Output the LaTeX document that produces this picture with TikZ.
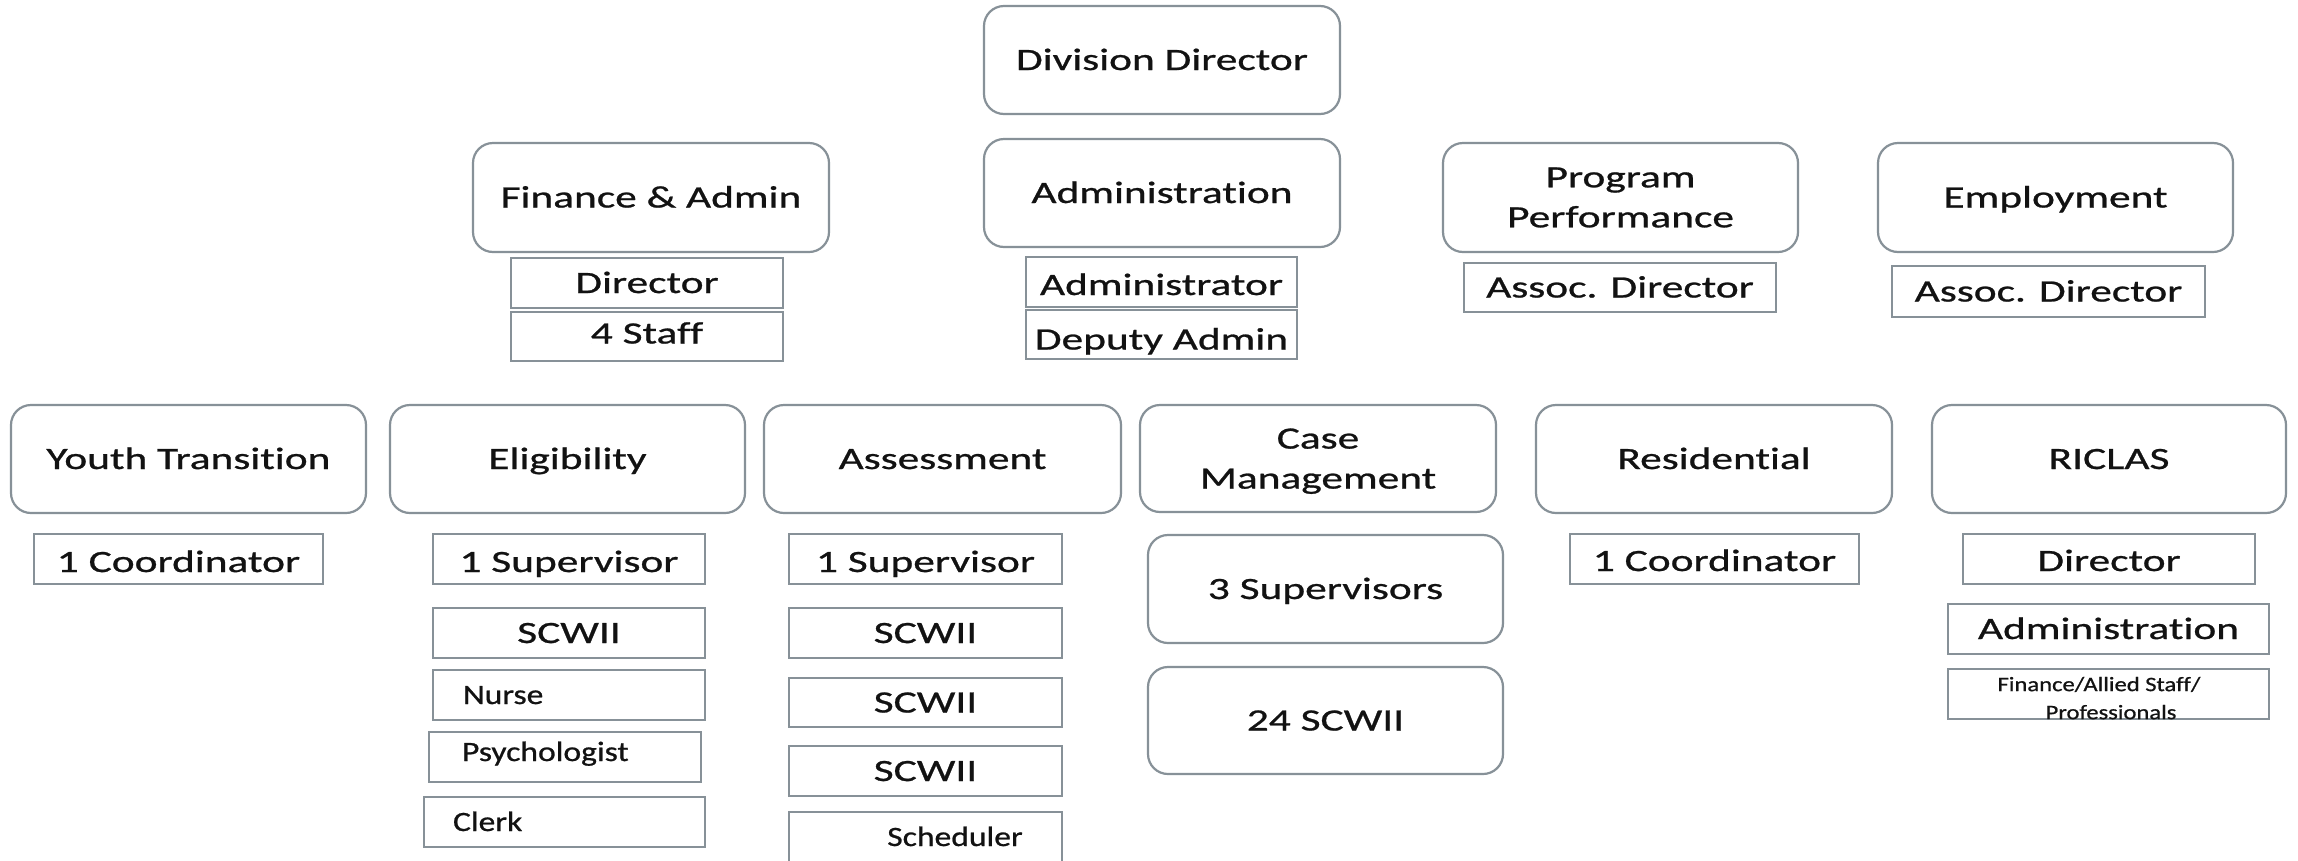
\documentclass[tikz,border=0pt]{standalone}
\usepackage{fontspec}
\setmainfont{Carlito}[FakeStretch=1.4, FakeBold=0.8, Ligatures=NoCommon]
\newfontfamily\finfont{Carlito}[FakeStretch=1.2, FakeBold=0.8, Ligatures=NoCommon]
\definecolor{bordercol}{RGB}{135,145,152}
\definecolor{textcol}{RGB}{18,18,18}
\newcommand\bigsz{\fontsize{31}{40}\selectfont}
\newcommand\smallsz{\finfont\fontsize{28}{33}\selectfont}
\newcommand\finsz{\finfont\fontsize{20.5}{29}\selectfont}
\tikzset{
  base/.style={draw=bordercol, line width=2pt, inner sep=0pt, text=textcol,
    align=center, font=\bigsz, text height=20pt, text depth=0pt},
  rbox/.style={base, rounded corners=20pt, line width=2.2pt},
  rboxtwo/.style={draw=bordercol, rounded corners=20pt, line width=2.2pt, inner sep=0pt,
    text=textcol, align=center, font=\bigsz},
  sbox/.style={base},
  smallbox/.style={base, font=\smallsz, text height=18pt},
  fintext/.style={inner sep=0pt, text=textcol, font=\finsz, text height=13.2pt, text depth=0pt},
}
\begin{document}
\begin{tikzpicture}[x=1pt,y=-1pt]
\clip (0,0) rectangle (2298,860);
\fill[white] (0,0) rectangle (2298,860);
% top levels
\node[rbox, minimum width=356pt, minimum height=108pt] (divdir) at (1162,60) {Division Director};
\node[rbox, minimum width=356pt, minimum height=108pt] (admin) at (1162,193) {Administration};
\node[rbox, minimum width=356pt, minimum height=109pt] (finadm) at (651,197.5) {Finance \& Admin};
\node[rboxtwo, minimum width=355pt, minimum height=109pt] (progperf) at (1620.5,197.5) {Program\\Performance};
\node[rbox, minimum width=355pt, minimum height=109pt] (employ) at (2055.5,197.5) {Employment};
% second level staff
\node[sbox, minimum width=272pt, minimum height=50pt] (findir) at (647,283) {Director};
\node[sbox, minimum width=272pt, minimum height=49pt, text height=14pt] (finstaff) at (647,336.5) {4 Staff};
\node[sbox, minimum width=271pt, minimum height=50pt, text height=26pt] (admr) at (1161.5,282) {Administrator};
\node[sbox, minimum width=271pt, minimum height=49pt, text height=30pt] (deputy) at (1161.5,334.5) {Deputy Admin};
\node[sbox, minimum width=312pt, minimum height=49pt] (ppassoc) at (1620,287.5) {Assoc. Director};
\node[sbox, minimum width=313pt, minimum height=51pt] (empassoc) at (2048.5,291.5) {Assoc. Director};
% third level units
\node[rbox, minimum width=355pt, minimum height=108pt] (youth) at (188.5,459) {Youth Transition};
\node[rbox, minimum width=355pt, minimum height=108pt] (elig) at (567.5,459) {Eligibility};
\node[rbox, minimum width=357pt, minimum height=108pt] (assess) at (942.5,459) {Assessment};
\node[rboxtwo, minimum width=356pt, minimum height=107pt, text depth=0pt] (casemgmt) at (1318,458.5) {Case\\Management};
\node[rbox, minimum width=356pt, minimum height=108pt] (resid) at (1714,459) {Residential};
\node[rbox, minimum width=354pt, minimum height=108pt] (riclas) at (2109,459) {RICLAS};
% youth transition
\node[sbox, minimum width=289pt, minimum height=50pt, text height=26pt] (ytcoord) at (178.5,559) {1 Coordinator};
% eligibility
\node[sbox, minimum width=272pt, minimum height=50pt, text height=26pt] (elsup) at (569,559) {1 Supervisor};
\node[sbox, minimum width=272pt, minimum height=50pt] (elscw) at (569,633) {SCWII};
\node[smallbox, minimum width=272pt, minimum height=50pt, text width=212pt, inner xsep=30pt, align=left] (nurse) at (569,695) {Nurse};
\node[smallbox, minimum width=272pt, minimum height=50pt, text width=206pt, inner xsep=33pt, align=left, text depth=10pt] (psych) at (565,757) {Psychologist};
\node[smallbox, minimum width=281pt, minimum height=50pt, text width=223pt, inner xsep=29pt, align=left] (clerk) at (564.5,822) {Clerk};
% assessment
\node[sbox, minimum width=273pt, minimum height=50pt, text height=26pt] (assup) at (925.5,559) {1 Supervisor};
\node[sbox, minimum width=273pt, minimum height=50pt] (asscwa) at (925.5,633) {SCWII};
\node[sbox, minimum width=273pt, minimum height=49pt] (asscwb) at (925.5,702.5) {SCWII};
\node[sbox, minimum width=273pt, minimum height=50pt] (asscwc) at (925.5,771) {SCWII};
\node[smallbox, minimum width=273pt, minimum height=50pt] (sched) at (925.5,837) {\hspace*{59pt}Scheduler};
% case management
\node[rbox, minimum width=355pt, minimum height=108pt] (cmsup) at (1325.5,589) {3 Supervisors};
\node[rbox, minimum width=355pt, minimum height=107pt] (cmscw) at (1325.5,720.5) {24 SCWII};
% residential
\node[sbox, minimum width=289pt, minimum height=50pt, text height=24pt] (rescoord) at (1714.5,559) {1 Coordinator};
% riclas
\node[sbox, minimum width=292pt, minimum height=50pt, text height=24pt] (ricdir) at (2109,559) {Director};
\node[sbox, minimum width=321pt, minimum height=50pt] (ricadm) at (2108.5,629) {Administration};
\node[sbox, minimum width=321pt, minimum height=50pt] (ricfin) at (2108.5,694) {};
\node[fintext] (ricfina) at (2099,684.5) {Finance/Allied Staff/};
\node[fintext] (ricfinb) at (2111,712.5) {Professionals};
\end{tikzpicture}
\end{document}
